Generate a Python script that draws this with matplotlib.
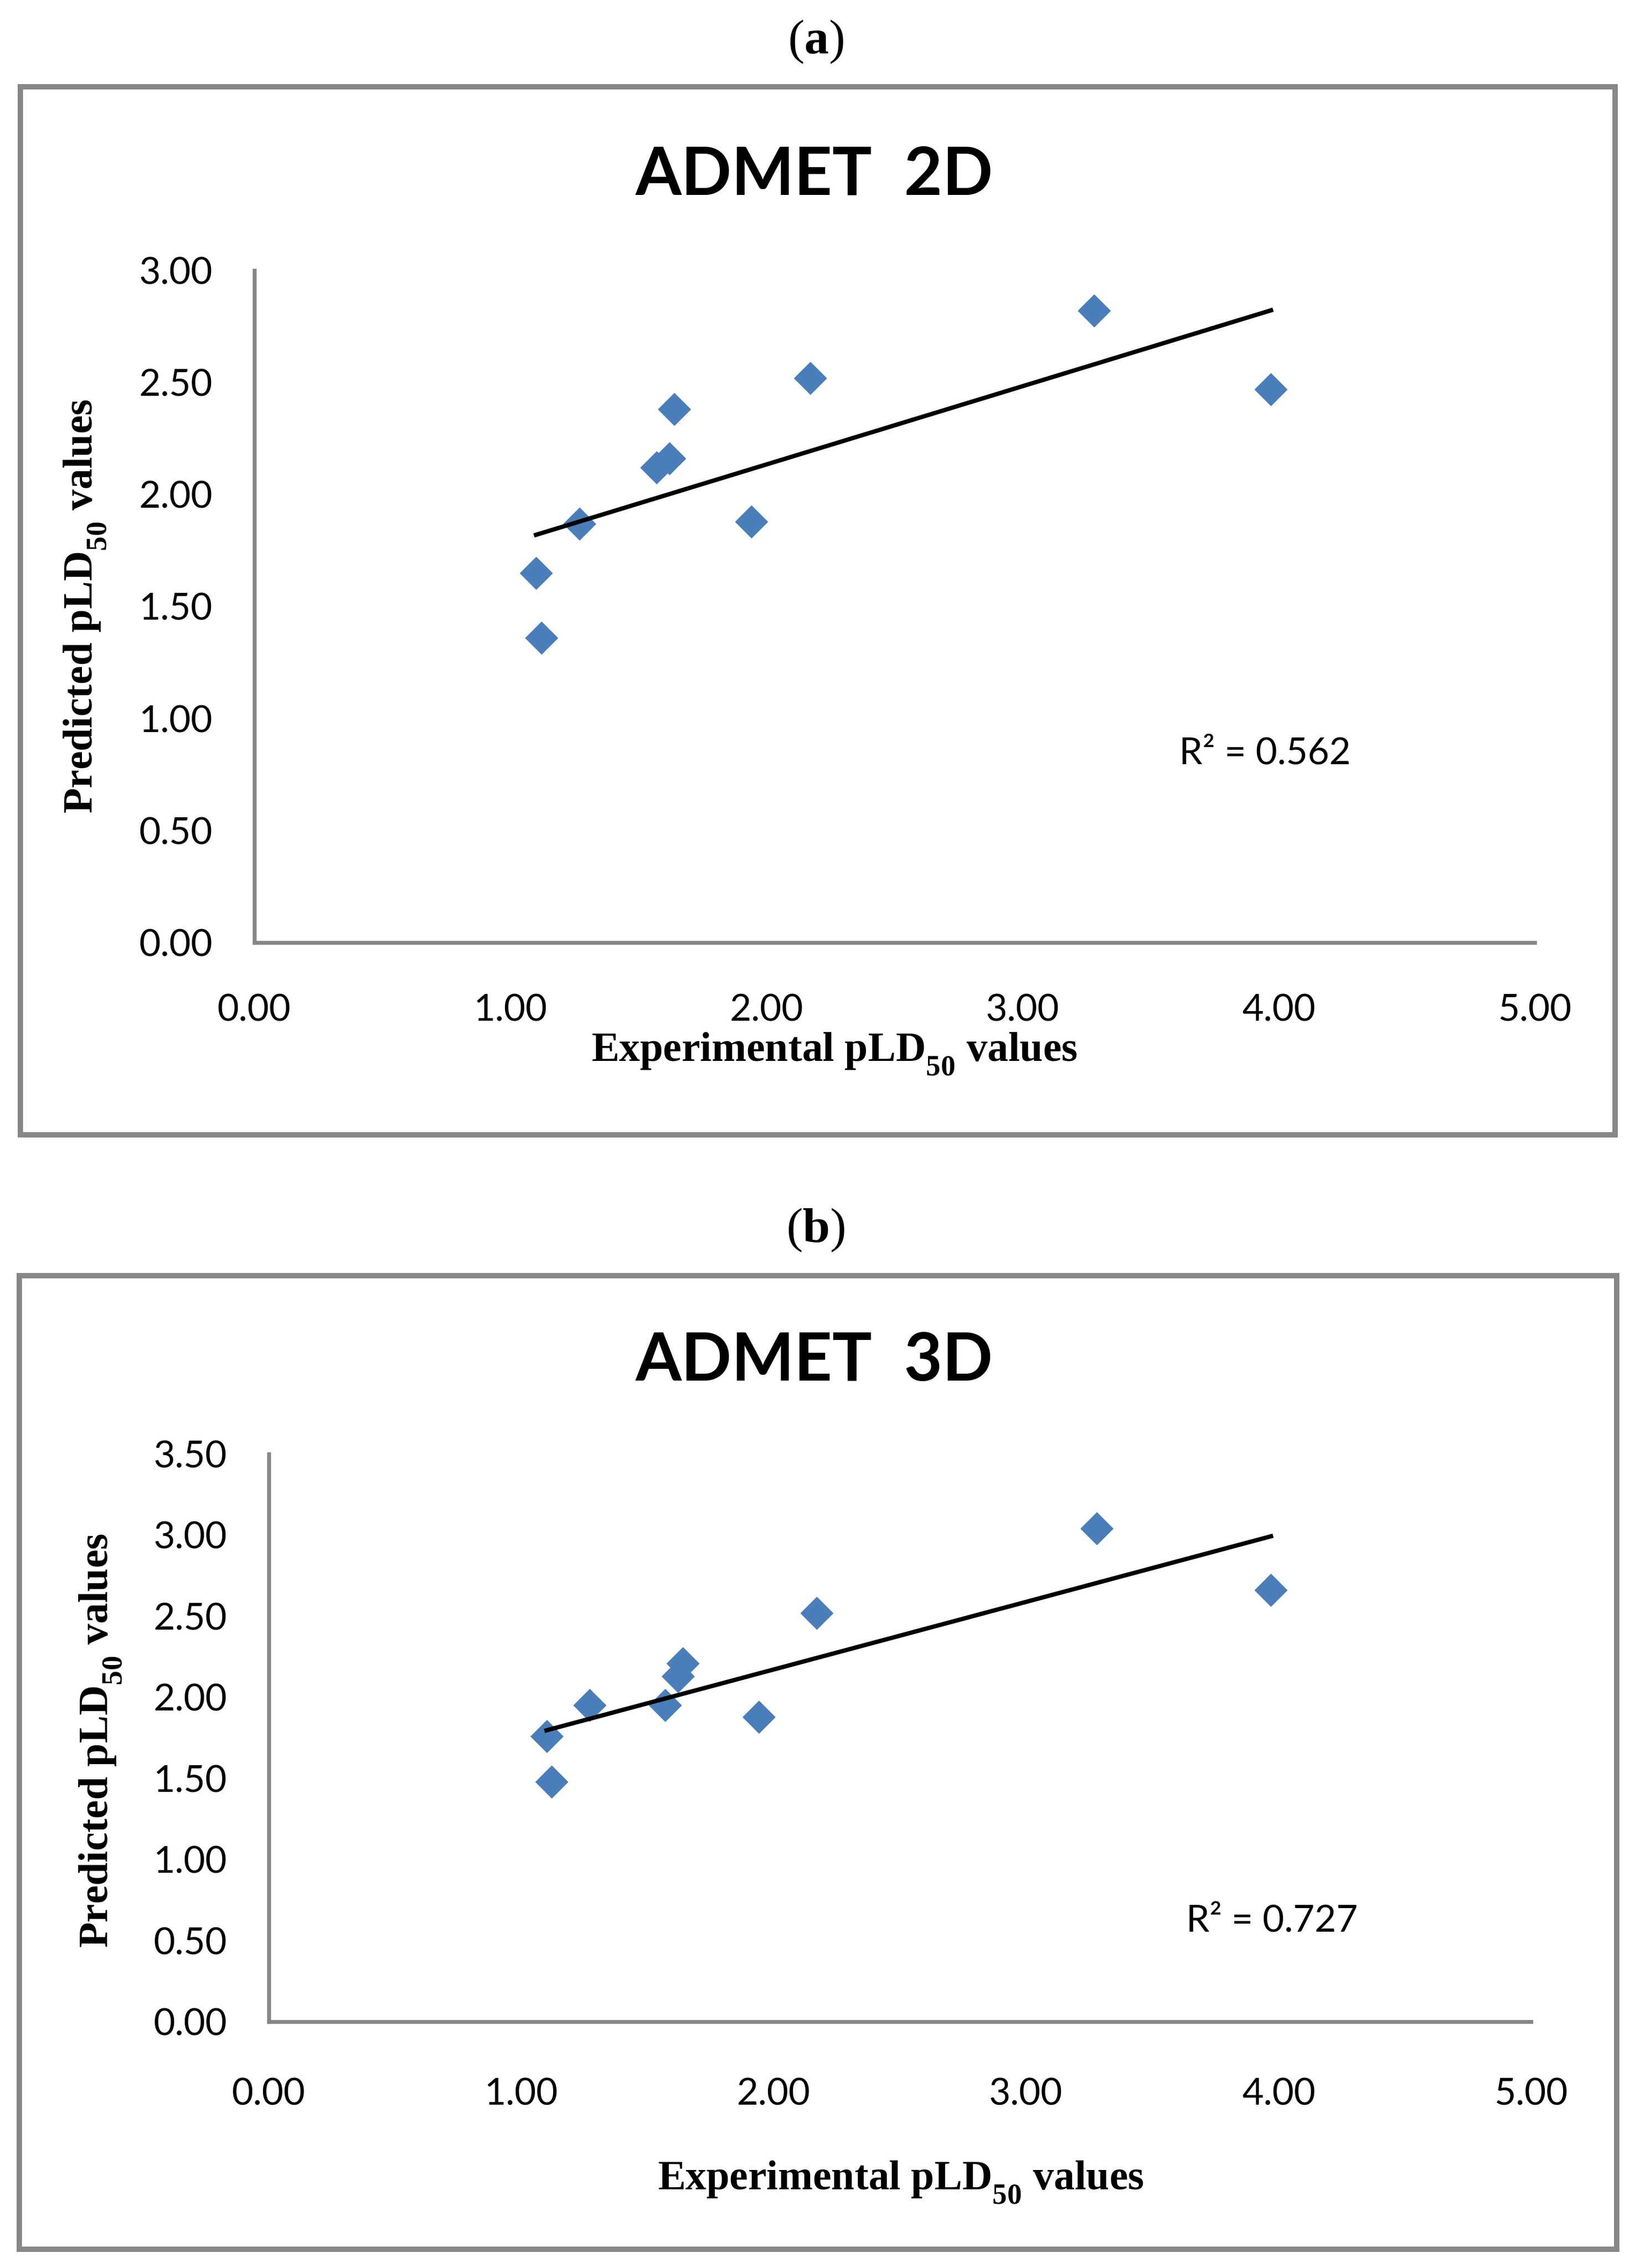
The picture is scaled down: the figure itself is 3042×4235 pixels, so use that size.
import numpy as np
import matplotlib
matplotlib.use('Agg')
import matplotlib.pyplot as plt
from matplotlib.patches import Rectangle

# same compounds in both panels
experimental = [1.10, 1.12, 1.27, 1.57, 1.62, 1.64, 1.94, 2.17, 3.28, 3.97]
predicted_2d = [1.65, 1.36, 1.87, 2.12, 2.16, 2.38, 1.88, 2.52, 2.82, 2.47]
predicted_3d = [1.76, 1.48, 1.95, 1.95, 2.13, 2.21, 1.88, 2.52, 3.04, 2.66]

panel_tags = [r'($\mathbf{a}$)', r'($\mathbf{b}$)']
titles = ['ADMET  2D', 'ADMET  3D']
r2_labels = ['R\u00b2 = 0.562', 'R\u00b2 = 0.727']
x_ticks = [0, 1, 2, 3, 4, 5]
y_ticks_2d = [0, 0.5, 1.0, 1.5, 2.0, 2.5, 3.0]
y_ticks_3d = [0, 0.5, 1.0, 1.5, 2.0, 2.5, 3.0, 3.5]

xlabel = r'Experimental pLD$_{\mathbf{50}}$ values'
ylabel = r'Predicted pLD$_{\mathbf{50}}$ values'

BLUE = '#4A7EBB'
GRAY = '#878787'
SERIF = dict(family='Liberation Serif', weight='bold')

plt.rcParams['font.family'] = ['Lato', 'DejaVu Sans']
plt.rcParams['mathtext.fontset'] = 'custom'
plt.rcParams['mathtext.rm'] = 'Liberation Serif:bold'
plt.rcParams['mathtext.bf'] = 'Liberation Serif:bold'
plt.rcParams['mathtext.it'] = 'Liberation Serif:bold'

# Word-style subscripts sit lower than mathtext's default
try:
    import matplotlib._mathtext as _mt
    _mt.FontConstantsBase.subdrop = 0.75
    _mt.FontConstantsBase.sub1 = 0.75
except Exception:
    pass

W, H = 3042, 4235


def fx(px):
    return px / W


def fy(py):
    return 1 - py / H


# pixel layout of each panel (left, top, right, bottom)
layouts = [
    dict(axes=(475, 505, 2866, 1760), frame=(38, 162, 3016, 2119),
         tag_y=100, title_y=363, xlab=(0.453, -0.1761), ylab=(-0.132, 0.50),
         r2=(0.7223, 0.2661), xpad=69),
    dict(axes=(502, 2715, 2859, 3775), frame=(36, 2382, 3019, 4200),
         tag_y=2319, title_y=2578, xlab=(0.5006, -0.2962), ylab=(-0.133, 0.495),
         r2=(0.7268, 0.1594), xpad=75),
]


def draw_panel(fig, lay, pred, yticks, tag, title, r2):
    l, t, r, b = lay['axes']
    ax = fig.add_axes([fx(l), fy(b), fx(r) - fx(l), fy(t) - fy(b)])

    ax.plot(experimental, pred, 'D', ms=31, mfc=BLUE, mec=BLUE, mew=1,
            ls='none', zorder=3, clip_on=False)
    slope, icpt = np.polyfit(experimental, pred, 1)
    xs = np.array([min(experimental), max(experimental)])
    ax.plot(xs, slope * xs + icpt, color='black', lw=5.8, zorder=4)

    ax.set_xlim(0, 5)
    ax.set_ylim(0, yticks[-1])
    ax.set_xticks(x_ticks)
    ax.set_yticks(yticks)
    ax.xaxis.set_major_formatter('{x:.2f}')
    ax.yaxis.set_major_formatter('{x:.2f}')
    ax.tick_params(axis='both', length=0, labelsize=50, colors='black')
    ax.tick_params(axis='y', pad=56)
    ax.tick_params(axis='x', pad=lay['xpad'])
    for s in ['top', 'right']:
        ax.spines[s].set_visible(False)
    for s in ['left', 'bottom']:
        ax.spines[s].set_color(GRAY)
        ax.spines[s].set_linewidth(5.3)
    ax.patch.set_alpha(0)

    ax.set_xlabel(xlabel, fontsize=56, **SERIF)
    ax.xaxis.set_label_coords(*lay['xlab'])
    ax.xaxis.label.set_va('baseline')
    ax.set_ylabel(ylabel, fontsize=56, **SERIF)
    ax.yaxis.set_label_coords(*lay['ylab'])
    ax.yaxis.label.set_va('center')

    ax.text(lay['r2'][0], lay['r2'][1], r2, transform=ax.transAxes,
            fontsize=50, ha='left', va='baseline')

    fig.text(0.5007, fy(lay['tag_y']), tag, fontsize=66, ha='center',
             va='baseline', family='Liberation Serif')
    fig.text(0.5, fy(lay['title_y']), title, fontsize=89, fontweight='bold',
             ha='center', va='baseline')

    x0, y0, x1, y1 = lay['frame']
    fig.add_artist(Rectangle((fx(x0), fy(y1)), fx(x1) - fx(x0), fy(y0) - fy(y1),
                             transform=fig.transFigure, fill=False,
                             ec=GRAY, lw=7.2))


fig = plt.figure(figsize=(W / 100, H / 100), dpi=100)
fig.patch.set_facecolor('white')
preds = [predicted_2d, predicted_3d]
yticks_all = [y_ticks_2d, y_ticks_3d]
for i in range(2):
    draw_panel(fig, layouts[i], preds[i], yticks_all[i], panel_tags[i],
               titles[i], r2_labels[i])

fig.savefig('out.png', dpi=100)
